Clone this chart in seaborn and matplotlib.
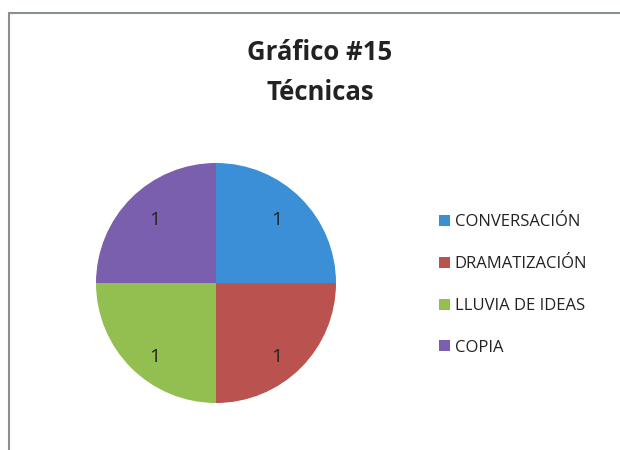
import matplotlib
matplotlib.use("Agg")
import matplotlib.pyplot as plt
import seaborn as sns
from matplotlib.patches import Rectangle, Patch

categories = ["CONVERSACIÓN", "DRAMATIZACIÓN", "LLUVIA DE IDEAS", "COPIA"]
values = [1, 1, 1, 1]
colors = ["#3A8FD6", "#BA524F", "#93BF50", "#7A5FAE"]
title_lines = ["Gráfico #15", "Técnicas"]

sns.set_theme(style="white")
plt.rcParams["font.family"] = ["Open Sans", "DejaVu Sans"]

fig = plt.figure(figsize=(6.2, 4.5), dpi=100)
fig.patch.set_facecolor("white")

ax = fig.add_axes([96 / 620, 47 / 450, 240 / 620, 240 / 450])
wedges, texts = ax.pie(
    values,
    labels=[str(v) for v in values],
    colors=colors,
    startangle=90,
    counterclock=False,
    labeldistance=0.72,
    radius=1.0,
    wedgeprops=dict(linewidth=0),
    textprops=dict(fontsize=14, color="#222222"),
)
for t in texts:
    t.set_horizontalalignment("center")
    t.set_verticalalignment("center")
    x, y = t.get_position()
    # Excel-like placement: upper labels slightly higher, lower labels lower
    t.set_position((x, y + (0.02 if y > 0 else -0.11)))
ax.set_xlim(-1.0, 1.0)
ax.set_ylim(-1.0, 1.0)
ax.set_aspect("equal")
ax.axis("off")

fig.text(320 / 620, 1 - 52 / 450, title_lines[0], ha="center", va="center",
         fontsize=18.5, fontweight="bold", color="#222222")
fig.text(320 / 620, 1 - 92 / 450, title_lines[1], ha="center", va="center",
         fontsize=18.5, fontweight="bold", color="#222222")

handles = [Patch(facecolor=c, edgecolor="none") for c in colors]
leg = fig.legend(handles, categories, loc="center left",
                 bbox_to_anchor=(424 / 620, 1 - 285 / 450),
                 frameon=False, fontsize=12, handlelength=0.65, handleheight=0.65,
                 handletextpad=0.3, labelspacing=1.55, labelcolor="#222222")

border = Rectangle((9 / 620, -0.05), 1.05, 1 - 13 / 450 + 0.05, transform=fig.transFigure,
                   fill=False, edgecolor="#8a8f8f", linewidth=1.5)
fig.patches.append(border)

fig.savefig("out.png", dpi=100)
